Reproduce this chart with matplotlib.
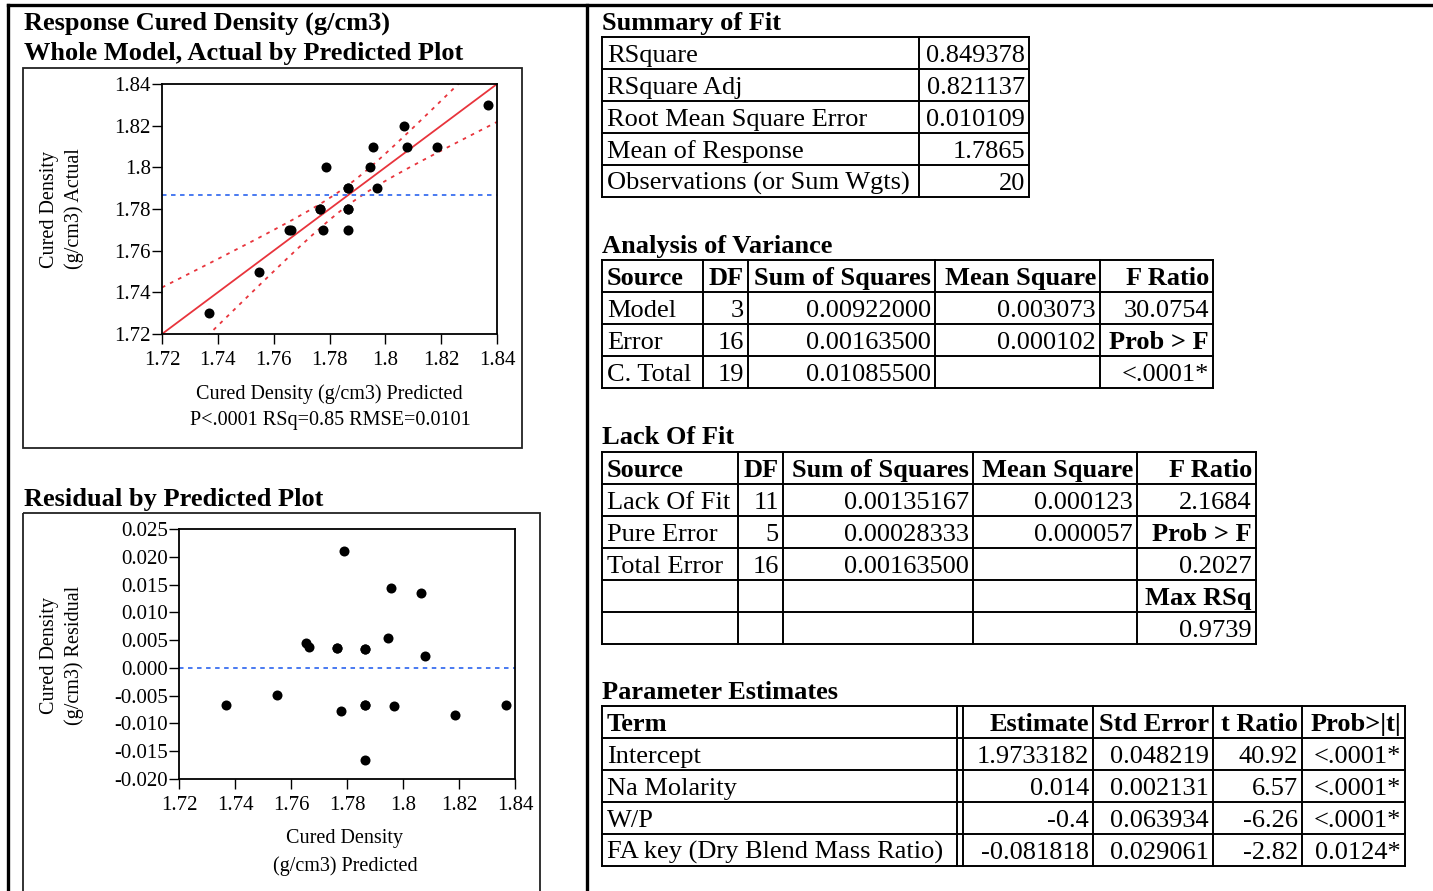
import numpy as np
import matplotlib
matplotlib.use("Agg")
import matplotlib.pyplot as plt
from matplotlib.patches import Rectangle

plt.rcParams["font.family"] = ["Liberation Serif", "DejaVu Serif"]

# fit data: predicted vs actual cured density (g/cm3)
predicted = [1.7367, 1.7549, 1.7655, 1.7663, 1.7765, 1.7778, 1.7789, 1.7866, 1.7866,
             1.7866, 1.7946, 1.7957, 1.7969, 1.8066, 1.8078, 1.8185, 1.8367,
             1.7866, 1.7765, 1.7866]
actual = [1.73, 1.75, 1.77, 1.77, 1.78, 1.77, 1.80, 1.79, 1.78,
          1.77, 1.80, 1.81, 1.79, 1.82, 1.81, 1.81, 1.83,
          1.78, 1.78, 1.79]

axis_ticks = [1.72, 1.74, 1.76, 1.78, 1.80, 1.82, 1.84]
axis_ticklabels = ["1.72", "1.74", "1.76", "1.78", "1.8", "1.82", "1.84"]
resid_ticks = [0.025, 0.020, 0.015, 0.010, 0.005, 0.000, -0.005, -0.010, -0.015, -0.020]
resid_ticklabels = ["0.025", "0.020", "0.015", "0.010", "0.005", "0.000",
                    "-0.005", "-0.010", "-0.015", "-0.020"]

# fit statistics used for the confidence curves
rmse = 0.010109
n_obs = 20
mean_resp = 1.7865
ss_model = 0.00922
df_model = 3
t_crit = 2.1199   # t(0.975, 16)
f_crit = 3.2389   # F(0.95; 3, 16)

summary_labels = ["RSquare", "RSquare Adj", "Root Mean Square Error",
                  "Mean of Response", "Observations (or Sum Wgts)"]
summary_values = ["0.849378", "0.821137", "0.010109", "1.7865", "20"]

anova_header = ["Source", "DF", "Sum of Squares", "Mean Square", "F Ratio"]
anova_source = ["Model", "Error", "C. Total"]
anova_df = ["3", "16", "19"]
anova_ss = ["0.00922000", "0.00163500", "0.01085500"]
anova_ms = ["0.003073", "0.000102", ""]
anova_f = ["30.0754", "Prob > F", "<.0001*"]

lof_header = ["Source", "DF", "Sum of Squares", "Mean Square", "F Ratio"]
lof_source = ["Lack Of Fit", "Pure Error", "Total Error", "", ""]
lof_df = ["11", "5", "16", "", ""]
lof_ss = ["0.00135167", "0.00028333", "0.00163500", "", ""]
lof_ms = ["0.000123", "0.000057", "", "", ""]
lof_f = ["2.1684", "Prob > F", "0.2027", "Max RSq", "0.9739"]

param_header = ["Term", "", "Estimate", "Std Error", "t Ratio", "Prob>|t|"]
param_terms = ["Intercept", "Na Molarity", "W/P", "FA key (Dry Blend Mass Ratio)"]
param_est = ["1.9733182", "0.014", "-0.4", "-0.081818"]
param_se = ["0.048219", "0.002131", "0.063934", "0.029061"]
param_t = ["40.92", "6.57", "-6.26", "-2.82"]
param_p = ["<.0001*", "<.0001*", "<.0001*", "0.0124*"]

bold_labels = {"Prob > F", "Max RSq"}

W, H = 1433, 891
fig = plt.figure(figsize=(W / 100, H / 100), dpi=100)
base = fig.add_axes([0, 0, 1, 1])
base.set_xlim(0, W)
base.set_ylim(H, 0)
base.axis("off")


def px_axes(x0, y0, x1, y1):
    return fig.add_axes([x0 / W, 1 - y1 / H, (x1 - x0) / W, (y1 - y0) / H])


# report frame
base.plot([8, W], [5, 5], color="black", lw=2.4)
base.plot([8, 8], [5, H], color="black", lw=2.4)
base.plot([587, 587], [5, H], color="black", lw=2.4)
base.add_patch(Rectangle((23, 68), 499, 380, fill=False, ec="#222", lw=1.3))
base.add_patch(Rectangle((23, 513), 517, 400, fill=False, ec="#222", lw=1.3))

TITLE = dict(fontsize=19, fontweight="bold", va="baseline", ha="left")
base.text(24, 30, "Response Cured Density (g/cm3)", **TITLE)
base.text(24, 60, "Whole Model, Actual by Predicted Plot", **TITLE)
base.text(24, 506, "Residual by Predicted Plot", **TITLE)
base.text(602, 30, "Summary of Fit", **TITLE)
base.text(602, 253, "Analysis of Variance", **TITLE)
base.text(602, 444, "Lack Of Fit", **TITLE)
base.text(602, 699, "Parameter Estimates", **TITLE)


def style_axes(ax):
    for s in ax.spines.values():
        s.set_linewidth(1.3)
    ax.tick_params(direction="out", length=7, width=1, labelsize=15, pad=1)
    ax.tick_params(axis="x", pad=5)


# actual by predicted
ax1 = px_axes(162, 84, 497, 334)
xs = np.linspace(1.72, 1.84, 200)
half = np.sqrt(rmse ** 2 * (t_crit ** 2 / n_obs
                            + df_model * f_crit * (xs - mean_resp) ** 2 / ss_model))
ax1.plot(xs, xs, color="#e8343c", lw=1.3)
ax1.plot(xs, xs + half, color="#e8343c", lw=1.3, ls=(0, (2, 3)))
ax1.plot(xs, xs - half, color="#e8343c", lw=1.3, ls=(0, (2, 3)))
ax1.axhline(mean_resp, color="#3a6ff0", lw=1.3, ls=(0, (2.5, 2.5)))
ax1.scatter(predicted, actual, s=52, color="black", zorder=3, lw=0)
ax1.set_xlim(1.72, 1.84)
ax1.set_ylim(1.72, 1.84)
ax1.set_xticks(axis_ticks, axis_ticklabels)
ax1.set_yticks(axis_ticks, axis_ticklabels)
style_axes(ax1)

LABEL = dict(fontsize=14.5, ha="center", va="center")
base.text(62, 209, "Cured Density\n(g/cm3) Actual", rotation=90, linespacing=1.4, **LABEL)
base.text(329, 394, "Cured Density (g/cm3) Predicted", **LABEL)
base.text(330, 421, "P<.0001 RSq=0.85 RMSE=0.0101", **LABEL)

# residual by predicted
residual = np.array(actual) - np.array(predicted)
ax2 = px_axes(179, 529, 515, 779)
ax2.axhline(0, color="#3a6ff0", lw=1.3, ls=(0, (2.5, 2.5)))
ax2.scatter(predicted, residual, s=52, color="black", zorder=3, lw=0)
ax2.set_xlim(1.72, 1.84)
ax2.set_ylim(-0.020, 0.025)
ax2.set_xticks(axis_ticks, axis_ticklabels)
ax2.set_yticks(resid_ticks, resid_ticklabels)
style_axes(ax2)

base.text(62, 655, "Cured Density\n(g/cm3) Residual", rotation=90, linespacing=1.4, **LABEL)
base.text(345, 838, "Cured Density", **LABEL)
base.text(345, 866, "(g/cm3) Predicted", **LABEL)


def draw_table(x_edges, y_top, columns, aligns, header=None, row_h=32):
    rows = list(zip(*columns))
    if header is not None:
        rows = [tuple(header)] + rows
    y_bot = y_top + row_h * len(rows)
    for i in range(len(rows) + 1):
        y = y_top + i * row_h
        base.plot([x_edges[0], x_edges[-1]], [y, y], color="black", lw=1.4)
    for x in x_edges:
        base.plot([x, x], [y_top, y_bot], color="black", lw=1.4)
    for r, row in enumerate(rows):
        yb = y_top + r * row_h + 25
        for c, txt in enumerate(row):
            if not txt:
                continue
            bold = (header is not None and r == 0) or txt in bold_labels
            if aligns[c] == "left":
                x, ha = x_edges[c] + 5, "left"
            else:
                x, ha = x_edges[c + 1] - 4, "right"
            base.text(x, yb, txt, fontsize=19, ha=ha, va="baseline",
                      fontweight="bold" if bold else "normal")


draw_table([602, 919, 1029], 37, [summary_labels, summary_values], ["left", "right"])
draw_table([602, 703, 748, 935, 1100, 1213], 260,
           [anova_source, anova_df, anova_ss, anova_ms, anova_f],
           ["left", "right", "right", "right", "right"], header=anova_header)
draw_table([602, 738, 783, 973, 1137, 1256], 452,
           [lof_source, lof_df, lof_ss, lof_ms, lof_f],
           ["left", "right", "right", "right", "right"], header=lof_header)
draw_table([602, 957, 963, 1093, 1213, 1302, 1405], 706,
           [param_terms, [""] * 4, param_est, param_se, param_t, param_p],
           ["left", "right", "right", "right", "right", "right"], header=param_header)

fig.savefig("out.png", dpi=100)
